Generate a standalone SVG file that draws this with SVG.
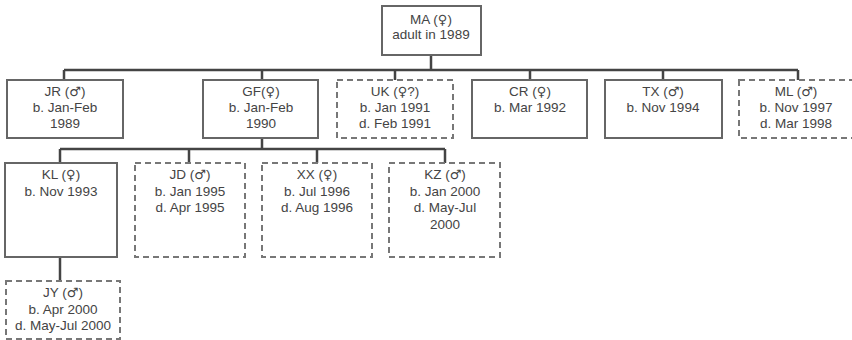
<svg xmlns="http://www.w3.org/2000/svg" width="852" height="340" viewBox="0 0 852 340">
<style>
.box{fill:#fff;stroke:#666;stroke-width:2}
.dash{fill:#fff;stroke:#777;stroke-width:2;stroke-dasharray:6 4}
.ln{fill:none;stroke:#444;stroke-width:2.5}
text{font-family:"Liberation Sans",Arial,sans-serif;font-size:13.5px;fill:#444;text-anchor:middle}
.s{font-family:"DejaVu Sans",sans-serif;font-size:13px}
</style>
<rect width="852" height="340" fill="#fff"/>
<g id="connectors">
<path class="ln" d="M431 55V70M64 70H798M64 70V80M262 70V80M395 70V80M530 70V80M663 70V80M798 70V80"/>
<path class="ln" d="M262 138V149M60 149H445M60 149V163M189 149V163M317 149V163M445 149V163"/>
<path class="ln" d="M60 257V281"/>
</g>
<g id="MA"><rect class="box" x="382" y="6" width="99" height="49"/><text x="431" y="24">MA (<tspan class="s">♀</tspan>)</text><text x="431" y="39">adult in 1989</text></g>
<g id="JR"><rect class="box" x="7" y="80" width="116" height="58"/><text x="65" y="96">JR (<tspan class="s">♂</tspan>)</text><text x="65" y="112">b. Jan-Feb</text><text x="65" y="128">1989</text></g>
<g id="GF"><rect class="box" x="203" y="80" width="115" height="58"/><text x="261" y="96">GF(<tspan class="s">♀</tspan>)</text><text x="261" y="112">b. Jan-Feb</text><text x="261" y="128">1990</text></g>
<g id="UK"><rect class="dash" x="337" y="80" width="116" height="58"/><text x="395" y="96">UK (<tspan class="s">♀</tspan>?)</text><text x="395" y="112">b. Jan 1991</text><text x="395" y="128">d. Feb 1991</text></g>
<g id="CR"><rect class="box" x="472" y="80" width="115" height="58"/><text x="530" y="96">CR (<tspan class="s">♀</tspan>)</text><text x="530" y="112">b. Mar 1992</text></g>
<g id="TX"><rect class="box" x="605" y="80" width="117" height="58"/><text x="663" y="96">TX (<tspan class="s">♂</tspan>)</text><text x="663" y="112">b. Nov 1994</text></g>
<g id="ML"><rect class="dash" x="739" y="80" width="115" height="58"/><text x="796" y="96">ML (<tspan class="s">♂</tspan>)</text><text x="796" y="112">b. Nov 1997</text><text x="796" y="128">d. Mar 1998</text></g>
<g id="KL"><rect class="box" x="5" y="163" width="112" height="94"/><text x="61" y="179">KL (<tspan class="s">♀</tspan>)</text><text x="61" y="196">b. Nov 1993</text></g>
<g id="JD"><rect class="dash" x="135" y="163" width="110" height="94"/><text x="190" y="179">JD (<tspan class="s">♂</tspan>)</text><text x="190" y="196">b. Jan 1995</text><text x="190" y="212">d. Apr 1995</text></g>
<g id="XX"><rect class="dash" x="262" y="163" width="110" height="94"/><text x="317" y="179">XX (<tspan class="s">♀</tspan>)</text><text x="317" y="196">b. Jul 1996</text><text x="317" y="212">d. Aug 1996</text></g>
<g id="KZ"><rect class="dash" x="389" y="163" width="111" height="94"/><text x="445" y="179">KZ (<tspan class="s">♂</tspan>)</text><text x="445" y="196">b. Jan 2000</text><text x="445" y="212">d. May-Jul</text><text x="445" y="229">2000</text></g>
<g id="JY"><rect class="dash" x="6" y="281" width="114" height="58"/><text x="63" y="297">JY (<tspan class="s">♂</tspan>)</text><text x="63" y="314">b. Apr 2000</text><text x="63" y="330">d. May-Jul 2000</text></g>
</svg>
